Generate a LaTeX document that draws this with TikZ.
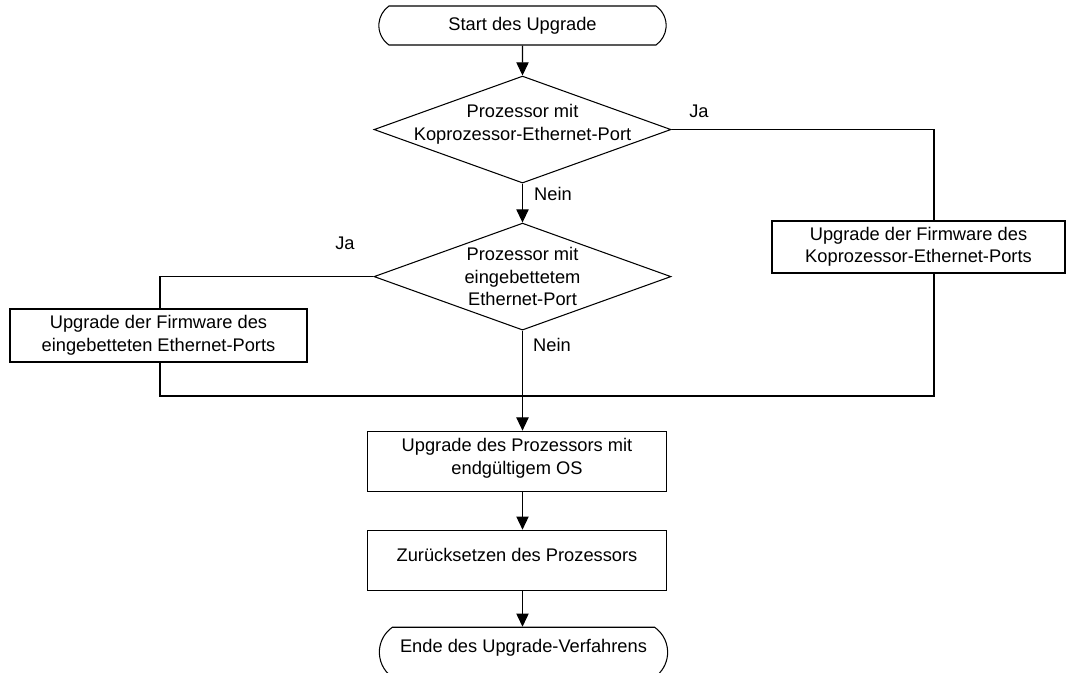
\documentclass[tikz,border=0pt]{standalone}
\usepackage{fontspec}
\setmainfont{Liberation Sans}
\usepackage{tikz}
\usetikzlibrary{shapes,arrows.meta,calc,positioning}
\tikzset{
        block/.style = {draw, rectangle, line width=0.6pt,
            minimum height=1.2cm,
            minimum width=5.98cm, align=center},
        terminal/.style = {draw, rounded rectangle,
            rounded rectangle arc length=110, line width=0.6pt,
            minimum height=0.78cm, minimum width=5.98cm},
        decision/.style = {draw, diamond, line width=0.6pt, inner sep=0pt,
            minimum width=5.94cm, minimum height=2.14cm},
        arrow/.style={draw, line width=0.6pt, -{Triangle[length=7.5pt,width=7pt]}},
        line/.style={draw, line width=0.6pt},
        answer/.style = {inner sep=0pt},
    }

\begin{document}
\begin{tikzpicture}[font=\fontsize{10.4}{12.8}\selectfont]
        \useasboundingbox (0,0) rectangle (21.32,-13.46);

        \node[terminal] (start) at (10.45,-0.51) {Start des Upgrade};
        \node[decision, below=0.6cm of start,
            label={[align=center, yshift=3pt]center:Prozessor mit\\Koprozessor-Ethernet-Port}] (q1) {};
        \node[decision, below=0.78cm of q1,
            label={[align=center]center:Prozessor mit\\eingebettetem\\Ethernet-Port}] (q2) {};
        \node[block, below=2.0cm of q2, xshift=-0.11cm, text depth=5.4pt] (os)
            {Upgrade des Prozessors mit\\endgültigem OS};
        \node[block, below=0.76cm of os, text depth=6.6pt] (reset) {Zurücksetzen des Prozessors};
        \node[terminal, below=0.72cm of reset, xshift=0.13cm,
            minimum width=6cm, minimum height=1cm, text depth=7pt] (end) {Ende des Upgrade-Verfahrens};

        \node[block, minimum width=5.86cm, minimum height=1.04cm] (cop) at (18.37,-4.94)
            {Upgrade der Firmware des\\Koprozessor-Ethernet-Ports};
        \node[block, minimum width=5.94cm, minimum height=1.06cm] (emb) at (3.17,-6.71)
            {Upgrade der Firmware des\\eingebetteten Ethernet-Ports};

        \coordinate (cr) at (18.68,-7.92);
        \coordinate (cl) at (3.2,-7.92);

        \node[answer] (ja1) at (13.98,-2.22) {Ja};
        \node[answer] (nein1) at (11.06,-3.88) {Nein};
        \node[answer] (ja2) at (6.9,-4.86) {Ja};
        \node[answer] (nein2) at (11.04,-6.9) {Nein};

        \draw[arrow] (start) -- (q1);
        \draw[arrow] (q1) -- (q2);
        \draw[line] (q1.east) -| (cr |- cop.north);
        \draw[line] (cr |- cop.south) -- (cr) -- (cl) -- (cl |- emb.south);
        \draw[line] (q2.west) -| (cl |- emb.north);
        \draw[arrow] (q2.south) -- (q2.south |- os.north);
        \draw[arrow] (q2 |- os.south) -- (q2 |- reset.north);
        \draw[arrow] (q2 |- reset.south) -- (q2 |- end.north);
\end{tikzpicture}
\end{document}
